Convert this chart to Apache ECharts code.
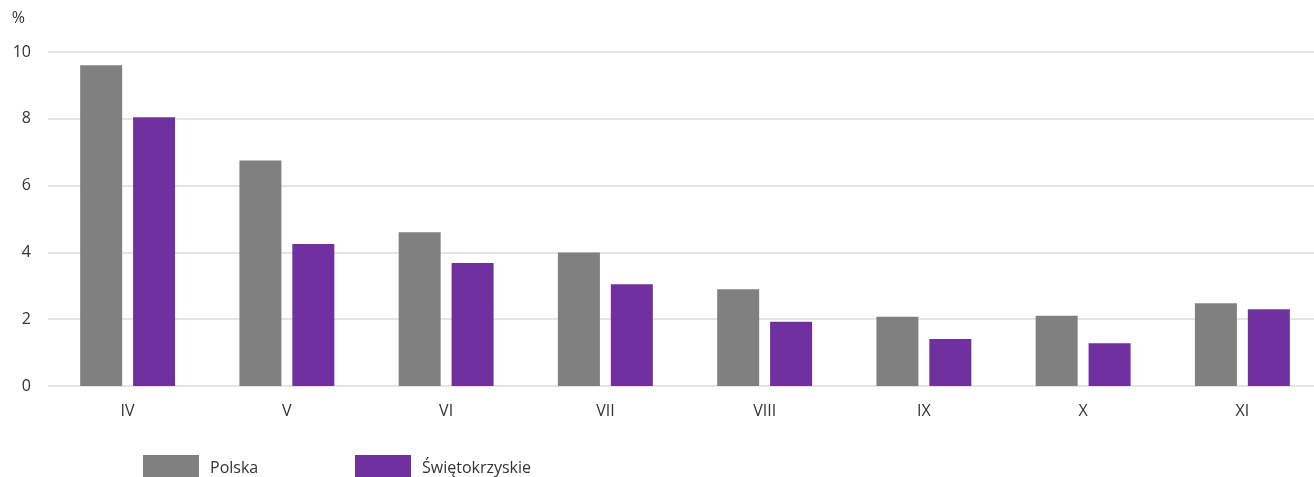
<!DOCTYPE html>
<html>
<head>
<meta charset="utf-8">
<script src="https://cdn.jsdelivr.net/npm/echarts@6/dist/echarts.min.js"></script>
<style>html,body{margin:0;padding:0;background:#fff;}#c{width:1314px;height:477px;}</style>
</head>
<body>
<div id="c"></div>
<script>
const categories = ['IV','V','VI','VII','VIII','IX','X','XI'];
const polska = [9.6, 6.75, 4.6, 4.0, 2.9, 2.07, 2.1, 2.48];
const swietokrzyskie = [8.05, 4.25, 3.68, 3.05, 1.92, 1.41, 1.28, 2.3];
const yTicks = [0, 2, 4, 6, 8, 10];

const font = 'Open Sans';
const chart = echarts.init(document.getElementById('c'));
chart.setOption({
  animation: false,
  backgroundColor: '#fff',
  textStyle: {fontFamily: font},
  grid: {left: 48, width: 1274, top: 52, bottom: 91, outerBoundsMode: 'none', containLabel: false},
  legend: [
    {data: ['Polska'], left: 138, top: 450, itemWidth: 56, itemHeight: 26, icon: 'rect',
     textStyle: {fontFamily: font, fontSize: 16, color: '#333', padding: [0,0,0,6]}},
    {data: ['Świętokrzyskie'], left: 350, top: 450, itemWidth: 56, itemHeight: 26, icon: 'rect',
     textStyle: {fontFamily: font, fontSize: 16, color: '#333', padding: [0,0,0,6]}}
  ],
  xAxis: {
    type: 'category', data: categories,
    axisLine: {show: false}, axisTick: {show: false},
    axisLabel: {fontFamily: font, fontSize: 16, color: '#333', margin: 17}
  },
  yAxis: {
    type: 'value', min: yTicks[0], max: yTicks[yTicks.length-1], interval: 2,
    name: '%', nameLocation: 'end', nameGap: 26,
    nameTextStyle: {fontFamily: font, fontSize: 16, color: '#333', align: 'right', padding: [0, 23, 0, 0]},
    axisLabel: {fontFamily: font, fontSize: 16, color: '#333', margin: 17},
    splitLine: {lineStyle: {color: '#dcdcdc', width: 1.5}},
    axisLine: {show: false}, axisTick: {show: false}
  },
  series: [
    {name: 'Polska', type: 'bar', data: polska, barWidth: 42, barGap: '26%', itemStyle: {color: '#808080'}},
    {name: 'Świętokrzyskie', type: 'bar', data: swietokrzyskie, barWidth: 42, itemStyle: {color: '#7030a0'}}
  ]
});
</script>
</body>
</html>
